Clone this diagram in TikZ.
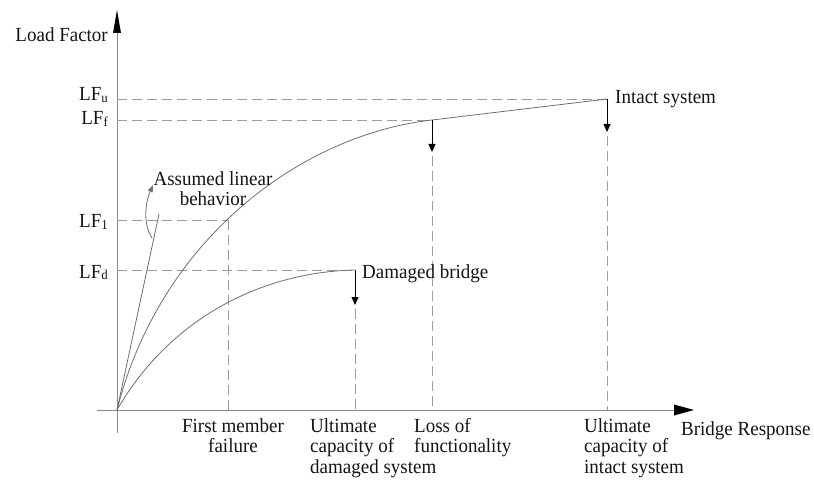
\documentclass[tikz,border=0pt]{standalone}
\usepackage{fontspec}
\setmainfont{Liberation Serif}[FakeStretch=0.95]
\usetikzlibrary{arrows.meta}
\definecolor{inkc}{HTML}{141414}
\definecolor{axisc}{HTML}{8A8A8A}
\definecolor{curvec}{HTML}{6E6E6E}
\definecolor{guidec}{HTML}{9C9C9C}
\newcommand{\lfsub}[1]{LF\raisebox{-1.5pt}{\fontsize{13.5}{13.5}\selectfont #1}}
\begin{document}
\begin{tikzpicture}[x=1pt,y=-1pt,
  lbl/.style={inner sep=0pt,text=inkc,font=\fontsize{20}{20.5}\selectfont},
  axisline/.style={draw=axisc,line width=0.9pt},
  curveline/.style={draw=curvec,line width=0.8pt},
  guide/.style={draw=guidec,line width=0.9pt,dash pattern=on 10pt off 5pt},
  marker/.style={draw=black,line width=0.8pt,-{Triangle[length=8pt,width=7pt]}}]
\useasboundingbox (0,0) rectangle (814,481);

% reference points
\coordinate (O) at (117,410);
\coordinate (ytop) at (117,10);
\coordinate (ybot) at (117,433);
\coordinate (xl) at (97,410);
\coordinate (xr) at (694,410);
\coordinate (pu) at (607,99);
\coordinate (pf) at (432,120);
\coordinate (p1) at (228,220);
\coordinate (pd) at (355,270);
\coordinate (lin) at (159,214);

% axes
\draw[axisline] (ybot) -- (117,33);
\fill[black] (113,33) -- (ytop) -- (121,33) -- cycle;
\draw[axisline] (xl) -- (674,410);
\fill[black] (674,404.5) -- (xr) -- (674,415.5) -- cycle;

% horizontal guides
\draw[guide] (117,99) -- (pu);
\draw[guide] (117,120) -- (pf);
\draw[guide] (117,220) -- (p1);
\draw[guide] (117,270) -- (pd);

% vertical guides
\draw[guide] (p1) -- (228,410);
\draw[guide] (355,309) -- (355,410);
\draw[guide] (432,156) -- (432,410);
\draw[guide] (607,136) -- (607,410);

% response curves
\draw[curveline] (O) .. controls (160,240) and (300,135) .. (pf) -- (pu);
\draw[curveline] (O) .. controls (170,318) and (262,272) .. (pd);
\draw[curveline] (O) -- (lin);

% drop markers
\draw[marker] (pu) -- (607,132);
\draw[marker] (pf) -- (432,152);
\draw[marker] (pd) -- (355,305);

% note arrow
\draw[draw=curvec,line width=0.8pt,-{Triangle[length=7pt,width=5pt]}]
  (152,238) .. controls (144,226) and (144,206) .. (153,185);

% axis titles
\node[lbl,anchor=base east] (yt) at (108,42) {Load Factor};
\node[lbl,anchor=base west] (xt) at (681,435) {Bridge Response};

% level labels
\node[lbl,anchor=base east] (lu) at (108,101) {\lfsub{u}};
\node[lbl,anchor=base east] (lf) at (108,125) {\lfsub{f}};
\node[lbl,anchor=base east] (l1) at (108,228) {\lfsub{1}};
\node[lbl,anchor=base east] (ld) at (108,278) {\lfsub{d}};

% curve labels
\node[lbl,anchor=base west] (intact) at (615,104) {Intact system};
\node[lbl,anchor=base west] (damaged) at (362,278) {Damaged bridge};
\node[lbl,align=center,anchor=north] (note) at (213,171) {Assumed linear\\behavior};

% response labels
\node[lbl,align=center,anchor=north] (r1) at (233,418) {First member\\failure};
\node[lbl,align=left,anchor=north west] (r2) at (310,418) {Ultimate\\capacity of\\damaged system};
\node[lbl,align=left,anchor=north west] (r3) at (414,418) {Loss of\\functionality};
\node[lbl,align=left,anchor=north west] (r4) at (584,418) {Ultimate\\capacity of\\intact system};
\end{tikzpicture}
\end{document}
